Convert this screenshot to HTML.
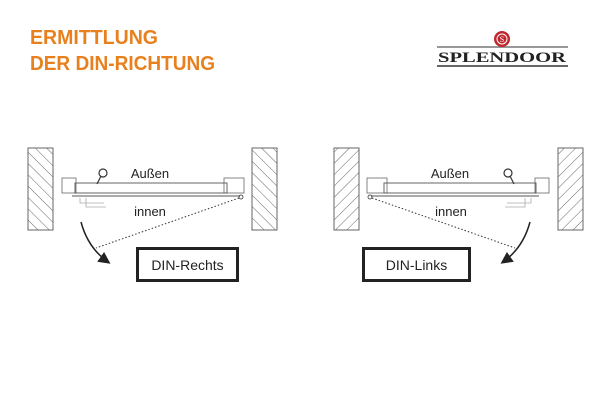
<!DOCTYPE html>
<html><head><meta charset="utf-8"><style>
body{margin:0;background:#fff;}
svg{display:block;font-family:"Liberation Sans",sans-serif;}
</style></head><body>
<svg width="612" height="400" viewBox="0 0 612 400">
<defs>
<pattern id="hatch" width="8" height="8" patternUnits="userSpaceOnUse" patternTransform="rotate(-45)">
<line x1="0" y1="0" x2="0" y2="8" stroke="#555" stroke-width="0.9"/></pattern>
<marker id="ah" markerWidth="8" markerHeight="8" refX="6" refY="4" orient="auto"><path d="M0,0 L8,4 L0,8 Z" fill="#222"/></marker>
</defs>
<g fill="#e8801e" font-weight="bold" font-size="20">
<text x="30" y="44" textLength="128" lengthAdjust="spacingAndGlyphs">ERMITTLUNG</text>
<text x="30" y="70" textLength="185" lengthAdjust="spacingAndGlyphs">DER DIN-RICHTUNG</text>
</g>
<g>
<line x1="437" y1="47" x2="568" y2="47" stroke="#777" stroke-width="1.5"/>
<line x1="437" y1="66" x2="568" y2="66" stroke="#333" stroke-width="1.5"/>
<circle cx="502" cy="39" r="8" fill="#c0272d"/>
<circle cx="502" cy="39" r="5" fill="none" stroke="#fff" stroke-width="1"/>
<text x="502" y="42" font-size="8" fill="#fff" text-anchor="middle" font-family="Liberation Serif,serif">S</text>
<text x="502" y="62" text-anchor="middle" font-family="Liberation Serif,serif" font-weight="bold" font-size="15" fill="#222" textLength="128" lengthAdjust="spacingAndGlyphs">SPLENDOOR</text>
</g>
<g id="d" stroke="#333" fill="none">
<rect x="28" y="148" width="25" height="82" fill="url(#hatch)" stroke="#666"/>
<rect x="252" y="148" width="25" height="82" fill="url(#hatch)" stroke="#666"/>
<rect x="62" y="178" width="14" height="15" stroke="#666" stroke-width="0.8"/>
<rect x="224" y="178" width="20" height="15" stroke="#666" stroke-width="0.8"/>
<rect x="75" y="183" width="152" height="10" stroke="#555" stroke-width="0.9"/>
<line x1="72" y1="196" x2="240" y2="196" stroke="#555" stroke-width="0.9"/>
<path d="M80,198 L80,203 L104,203 M86,198 L86,207 L106,207" stroke="#aaa" stroke-width="0.8"/>
<line x1="97" y1="184" x2="101" y2="176" stroke-width="1.2"/>
<circle cx="103" cy="173" r="4" stroke-width="1.2"/>
<circle cx="241" cy="197" r="2" stroke-width="0.8"/>
<line x1="239" y1="198" x2="96" y2="248" stroke-dasharray="1.5,2" stroke-width="1"/>
<path d="M81,222 Q88,248 108,262" stroke="#222" stroke-width="1.5" marker-end="url(#ah)"/>
</g>
<use href="#d" transform="translate(611,0) scale(-1,1)"/>
<g font-size="13" fill="#222">
<text x="150" y="178" text-anchor="middle">Außen</text>
<text x="150" y="216" text-anchor="middle">innen</text>
<text x="450" y="178" text-anchor="middle">Außen</text>
<text x="451" y="216" text-anchor="middle">innen</text>
</g>
<g>
<rect x="137.5" y="248.5" width="100" height="32" fill="#fff" stroke="#222" stroke-width="3"/>
<text x="187.5" y="270" text-anchor="middle" font-size="14" fill="#222">DIN-Rechts</text>
</g>
<g>
<rect x="363.5" y="248.5" width="106" height="32" fill="#fff" stroke="#222" stroke-width="3"/>
<text x="416.5" y="270" text-anchor="middle" font-size="14" fill="#222">DIN-Links</text>
</g>
</svg>
</body></html>
